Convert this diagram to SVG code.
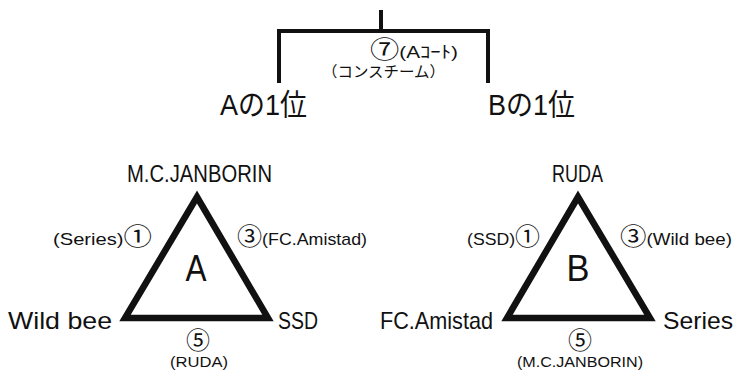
<svg xmlns="http://www.w3.org/2000/svg" width="734" height="372" viewBox="0 0 734 372">
<style>
text{font-family:"Liberation Sans","Noto Sans CJK JP",sans-serif;fill:#111;}
.big{font-size:30px;}
.team{font-size:24px;}
.grp{font-size:37px;}
.mid{font-size:17px;}
.small{font-size:15px;}
.c{font-size:24px;}
.m{text-anchor:middle;}
.ln{stroke:#111;stroke-width:4;fill:none;}
.tri{stroke:#111;stroke-width:6.5;fill:none;stroke-linejoin:miter;}
</style>
<rect width="734" height="372" fill="#fff"/>
<g id="connectors">
<path class="ln" d="M381 10V31M279 83V31H488V83"/>
</g>
<g id="final">
<text class="mid" x="370" y="58" textLength="88" lengthAdjust="spacingAndGlyphs"><tspan class="c">⑦</tspan>(Aｺｰﾄ)</text>
<text class="small" x="322" y="77" textLength="123" lengthAdjust="spacingAndGlyphs">（コンスチーム）</text>
</g>
<g id="a1">
<text class="big" x="220" y="115" textLength="87" lengthAdjust="spacingAndGlyphs">Aの1位</text>
</g>
<g id="b1">
<text class="big" x="488" y="115" textLength="87" lengthAdjust="spacingAndGlyphs">Bの1位</text>
</g>
<g id="groupA">
<polygon class="tri" points="197,197 268,318 125,318"/>
<text class="grp m" x="196" y="281" textLength="21" lengthAdjust="spacingAndGlyphs">A</text>
<text class="team" x="127" y="182" textLength="145" lengthAdjust="spacingAndGlyphs">M.C.JANBORIN</text>
<text class="team" x="8" y="329" textLength="104" lengthAdjust="spacingAndGlyphs">Wild bee</text>
<text class="team" x="278" y="329" textLength="40" lengthAdjust="spacingAndGlyphs">SSD</text>
<text class="mid" x="53" y="245" textLength="99" lengthAdjust="spacingAndGlyphs">(Series)<tspan class="c">①</tspan></text>
<text class="mid" x="237" y="245" textLength="130" lengthAdjust="spacingAndGlyphs"><tspan class="c">③</tspan>(FC.Amistad)</text>
<text class="c m" x="198" y="349">⑤</text>
<text class="small" x="170" y="367" textLength="58" lengthAdjust="spacingAndGlyphs">(RUDA)</text>
</g>
<g id="groupB">
<polygon class="tri" points="578,197 650,318 507,318"/>
<text class="grp m" x="578" y="281" textLength="23" lengthAdjust="spacingAndGlyphs">B</text>
<text class="team" x="552" y="182" textLength="51" lengthAdjust="spacingAndGlyphs">RUDA</text>
<text class="team" x="380" y="329" textLength="113" lengthAdjust="spacingAndGlyphs">FC.Amistad</text>
<text class="team" x="663" y="329" textLength="70" lengthAdjust="spacingAndGlyphs">Series</text>
<text class="mid" x="467" y="245" textLength="73" lengthAdjust="spacingAndGlyphs">(SSD)<tspan class="c">①</tspan></text>
<text class="mid" x="620" y="245" textLength="112" lengthAdjust="spacingAndGlyphs"><tspan class="c">③</tspan>(Wild bee)</text>
<text class="c m" x="580" y="349">⑤</text>
<text class="small" x="517" y="367" textLength="126" lengthAdjust="spacingAndGlyphs">(M.C.JANBORIN)</text>
</g>
</svg>
